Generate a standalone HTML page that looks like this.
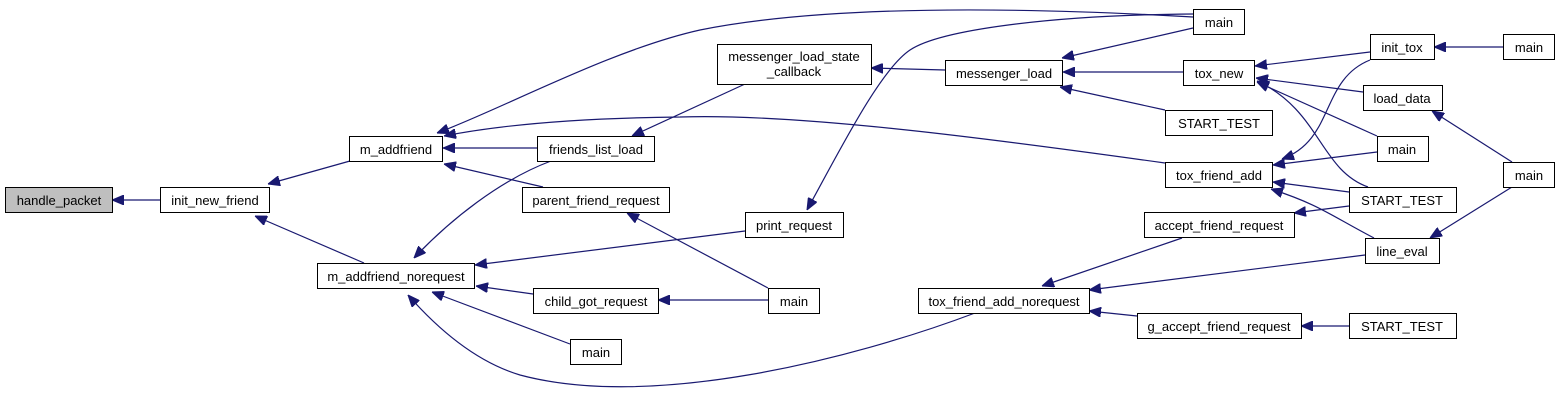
<!DOCTYPE html>
<html><head><meta charset="utf-8"><style>
html,body{margin:0;padding:0;background:#fff;}
svg{display:block;}
text{font-family:"Liberation Sans",sans-serif;font-size:13px;fill:#000;text-anchor:middle;}
rect{fill:#fff;stroke:#000;stroke-width:1;}
path{fill:none;stroke:#191970;stroke-width:1.2;}
</style></head><body>
<svg width="1560" height="402" viewBox="0 0 1560 402" xmlns="http://www.w3.org/2000/svg">
<defs>
<marker id="a" viewBox="0 0 12 10" refX="12" refY="5" markerWidth="12" markerHeight="10" markerUnits="userSpaceOnUse" orient="auto">
<path d="M0,0 L12,5 L0,10 Z" style="fill:#191970;stroke:#191970;stroke-width:1"/>
</marker>
</defs>
<g marker-end="url(#a)">
<path d="M160,200 L112,200"/>
<path d="M350,161 L268,184"/>
<path d="M364,263 L255,216"/>
<path d="M1193,17 C1000,6 820,6 700,30 C610,50 500,110 437,133"/>
<path d="M1165,163 C1000,140 800,113 680,117 C580,118 500,125 444,136"/>
<path d="M537,148 L443,148"/>
<path d="M543,187 L444,164"/>
<path d="M551,161 C500,180 450,220 414,258"/>
<path d="M745,84 L632,136"/>
<path d="M945,70 L871,68"/>
<path d="M1193,14 C1050,15 940,30 910,50 C880,70 840,150 807,210"/>
<path d="M1193,28 L1062,58"/>
<path d="M745,231 L475,265"/>
<path d="M533,294 L476,286"/>
<path d="M570,344 L432,292"/>
<path d="M975,313 C850,360 650,410 520,375 C470,360 430,320 408,295"/>
<path d="M768,288 L627,213"/>
<path d="M768,300 L658,300"/>
<path d="M1183,72 L1063,72"/>
<path d="M1165,110 L1060,87"/>
<path d="M1370,52 L1255,66"/>
<path d="M1363,92 L1256,78"/>
<path d="M1377,136 L1257,82"/>
<path d="M1368,187 C1320,170 1320,110 1257,81"/>
<path d="M1370,60 C1320,80 1335,140 1282,159"/>
<path d="M1377,152 L1273,165"/>
<path d="M1349,192 L1273,182"/>
<path d="M1374,238 C1330,215 1320,205 1271,189"/>
<path d="M1349,206 L1294,213"/>
<path d="M1182,238 L1042,286"/>
<path d="M1365,255 L1089,290"/>
<path d="M1137,316 L1089,311"/>
<path d="M1349,326 L1301,326"/>
<path d="M1503,47 L1434,47"/>
<path d="M1512,162 L1432,111"/>
<path d="M1512,187 L1430,238"/>
</g>
<rect x="5.5" y="187.5" width="107" height="25" style="fill:#bfbfbf"/><text x="59" y="205">handle_packet</text>
<rect x="160.5" y="187.5" width="109" height="25"/><text x="215" y="205">init_new_friend</text>
<rect x="349.5" y="136.5" width="93" height="25"/><text x="396" y="154">m_addfriend</text>
<rect x="317.5" y="263.5" width="157" height="25"/><text x="396" y="281">m_addfriend_norequest</text>
<rect x="717.5" y="44.5" width="154" height="40"/><text x="794" y="61">messenger_load_state</text><text x="794" y="76">_callback</text>
<rect x="945.5" y="60.5" width="117" height="25"/><text x="1004" y="78">messenger_load</text>
<rect x="537.5" y="136.5" width="117" height="25"/><text x="596" y="154">friends_list_load</text>
<rect x="522.5" y="187.5" width="147" height="25"/><text x="596" y="205">parent_friend_request</text>
<rect x="745.5" y="212.5" width="98" height="25"/><text x="794" y="230">print_request</text>
<rect x="533.5" y="288.5" width="125" height="25"/><text x="596" y="306">child_got_request</text>
<rect x="768.5" y="288.5" width="51" height="25"/><text x="794" y="306">main</text>
<rect x="570.5" y="339.5" width="51" height="25"/><text x="596" y="357">main</text>
<rect x="918.5" y="288.5" width="171" height="25"/><text x="1004" y="306">tox_friend_add_norequest</text>
<rect x="1193.5" y="9.5" width="51" height="25"/><text x="1219" y="27">main</text>
<rect x="1183.5" y="60.5" width="71" height="25"/><text x="1219" y="78">tox_new</text>
<rect x="1165.5" y="110.5" width="107" height="25"/><text x="1219" y="128">START_TEST</text>
<rect x="1165.5" y="162.5" width="107" height="25"/><text x="1219" y="180">tox_friend_add</text>
<rect x="1144.5" y="212.5" width="150" height="25"/><text x="1219" y="230">accept_friend_request</text>
<rect x="1137.5" y="313.5" width="164" height="25"/><text x="1219" y="331">g_accept_friend_request</text>
<rect x="1370.5" y="34.5" width="64" height="25"/><text x="1402" y="52">init_tox</text>
<rect x="1503.5" y="34.5" width="51" height="25"/><text x="1529" y="52">main</text>
<rect x="1363.5" y="85.5" width="79" height="25"/><text x="1402" y="103">load_data</text>
<rect x="1377.5" y="136.5" width="51" height="25"/><text x="1402" y="154">main</text>
<rect x="1349.5" y="187.5" width="107" height="25"/><text x="1402" y="205">START_TEST</text>
<rect x="1365.5" y="238.5" width="74" height="25"/><text x="1402" y="256">line_eval</text>
<rect x="1349.5" y="313.5" width="107" height="25"/><text x="1402" y="331">START_TEST</text>
<rect x="1503.5" y="162.5" width="51" height="25"/><text x="1529" y="180">main</text>
</svg>
</body></html>
